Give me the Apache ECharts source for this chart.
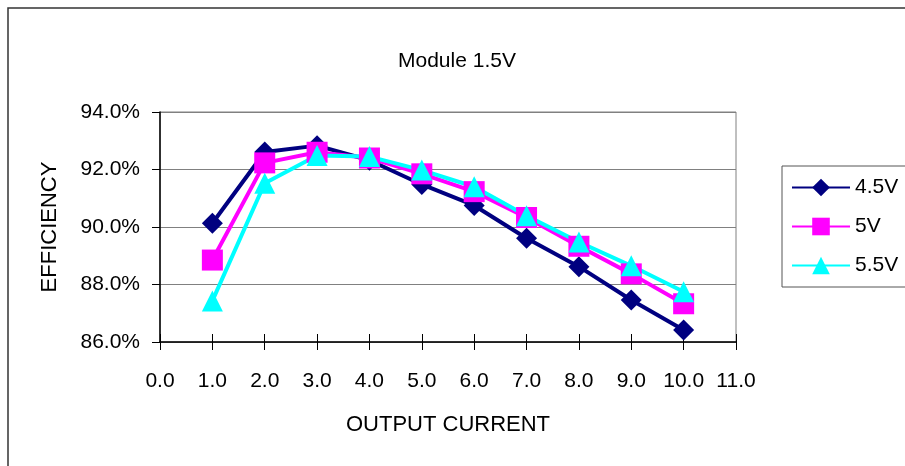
<!DOCTYPE html>
<html>
<head>
<meta charset="utf-8">
<script src="https://cdn.jsdelivr.net/npm/echarts@6/dist/echarts.min.js"></script>
<style>
html,body{margin:0;padding:0;background:#fff;}
#c{width:905px;height:466px;}
</style>
</head>
<body>
<div id="c"></div>
<script>
const currents = [1.0, 2.0, 3.0, 4.0, 5.0, 6.0, 7.0, 8.0, 9.0, 10.0];
const eff45 = [90.13, 92.61, 92.83, 92.32, 91.48, 90.75, 89.61, 88.62, 87.46, 86.42];
const eff50 = [88.85, 92.23, 92.60, 92.40, 91.85, 91.23, 90.33, 89.33, 88.37, 87.33];
const eff55 = [87.43, 91.52, 92.49, 92.45, 91.98, 91.40, 90.39, 89.48, 88.65, 87.75];
const seriesNames = ['4.5V', '5V', '5.5V'];
const titleText = 'Module 1.5V';
const xName = 'OUTPUT CURRENT';
const yName = 'EFFICIENCY';

const FONT = "'Liberation Sans', Arial, sans-serif";
const pairs = arr => currents.map((x, i) => [x, arr[i]]);

const chart = echarts.init(document.getElementById('c'), null, {renderer: 'canvas'});
const mk = (name, data, color, symbol) => ({
  name, type: 'line', data: pairs(data),
  symbol, symbolSize: 21,
  lineStyle: {color, width: 4},
  itemStyle: {color, borderWidth: 0},
  emphasis: {disabled: true},
  animation: false
});
chart.setOption({
  backgroundColor: '#fff',
  animation: false,
  textStyle: {fontFamily: FONT},
  graphic: [{
    type: 'rect', shape: {x: 8, y: 8, width: 1000, height: 1000},
    style: {fill: 'none', stroke: '#333', lineWidth: 1.5}, silent: true, z: -1
  }, {
    type: 'rect', shape: {x: 782, y: 166, width: 200, height: 121},
    style: {fill: 'none', stroke: '#555', lineWidth: 1}, silent: true, z: -1
  }],
  title: {
    text: titleText, left: 398, top: 51, padding: 0,
    textStyle: {fontFamily: FONT, fontSize: 21, fontWeight: 'normal', color: '#000'}
  },
  legend: {
    orient: 'vertical', left: 782, top: 166,
    padding: [11, 5, 9, 9], itemGap: 18, itemWidth: 58, itemHeight: 22,
    textStyle: {fontFamily: FONT, fontSize: 21, color: '#000'},
    data: seriesNames
  },
  grid: {left: 160, top: 112, width: 576, height: 230, show: true, borderColor: '#808080', borderWidth: 1},
  xAxis: [{
    type: 'value', min: 0, max: 11, interval: 1,
    name: xName, nameLocation: 'middle', nameGap: 72,
    nameTextStyle: {fontFamily: FONT, fontSize: 22, color: '#000'},
    axisLine: {lineStyle: {color: '#000', width: 1.5}},
    axisTick: {show: true, length: 8, lineStyle: {color: '#000'}},
    axisLabel: {fontFamily: FONT, fontSize: 21, color: '#000', margin: 29, formatter: v => v.toFixed(1)},
    splitLine: {show: false}
  }, {
    type: 'value', min: 0, max: 11, interval: 1, position: 'bottom',
    axisLine: {show: false},
    axisTick: {show: true, inside: true, length: 8, lineStyle: {color: '#000'}},
    axisLabel: {show: false},
    splitLine: {show: false}
  }],
  yAxis: {
    type: 'value', min: 86, max: 94, interval: 2,
    name: yName, nameLocation: 'middle', nameGap: 99,
    nameTextStyle: {fontFamily: FONT, fontSize: 22, color: '#000'},
    axisLine: {show: true, lineStyle: {color: '#000', width: 1.5}},
    axisTick: {show: true, length: 8, lineStyle: {color: '#000'}},
    axisLabel: {fontFamily: FONT, fontSize: 21, color: '#000', margin: 20, formatter: v => v.toFixed(1) + '%'},
    splitLine: {show: true, lineStyle: {color: '#808080', width: 1}}
  },
  series: [
    mk(seriesNames[0], eff45, '#000080', 'diamond'),
    mk(seriesNames[1], eff50, '#FF00FF', 'rect'),
    mk(seriesNames[2], eff55, '#00FFFF', 'triangle')
  ]
});
</script>
</body>
</html>
